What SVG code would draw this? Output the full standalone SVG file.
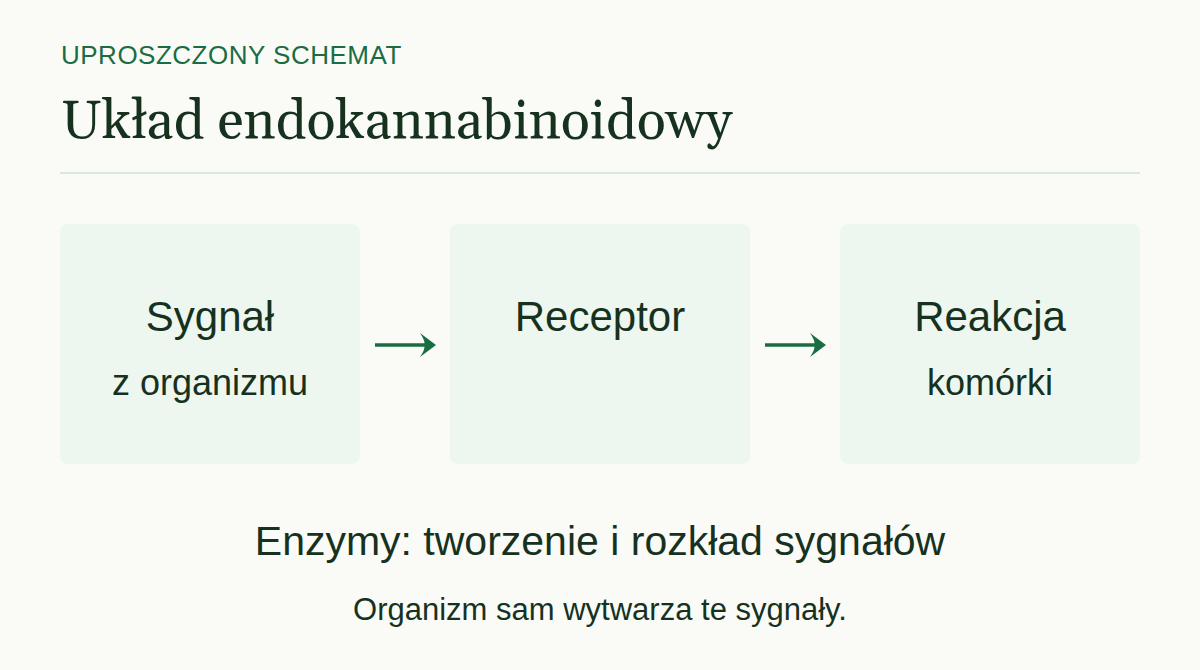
<svg xmlns="http://www.w3.org/2000/svg" width="1200" height="670" viewBox="0 0 1200 670">
  <defs>
    <style>
      .bg { fill: #fafbf7; }
      .eyebrow { font-family: "Liberation Sans", Arial, sans-serif; font-size: 26px; letter-spacing: 0.5px; fill: #1a6d43; }
      .title { font-family: Georgia, Gelasio, "Liberation Serif", serif; font-size: 54px; fill: #16321f; }
      .rule { stroke: #dce7df; stroke-width: 2; }
      .box { fill: #edf7ef; }
      .main { font-family: "Liberation Sans", Arial, sans-serif; font-size: 42px; fill: #16321f; text-anchor: middle; }
      .sub { font-family: "Liberation Sans", Arial, sans-serif; font-size: 36px; fill: #16321f; text-anchor: middle; }
      .arrow-line { stroke: #1a6d43; stroke-width: 3.5; fill: none; }
      .arrow-head { fill: #1a6d43; }
      .enz { font-family: "Liberation Sans", Arial, sans-serif; font-size: 41px; fill: #16321f; text-anchor: middle; }
      .note { font-family: "Liberation Sans", Arial, sans-serif; font-size: 31px; fill: #16321f; text-anchor: middle; }
    </style>
  </defs>
  <rect class="bg" x="0" y="0" width="1200" height="670"/>
  <g id="header">
    <text class="eyebrow" x="61" y="64">UPROSZCZONY SCHEMAT</text>
    <text class="title" x="61" y="138">Układ endokannabinoidowy</text>
    <line class="rule" x1="60" y1="173" x2="1140" y2="173"/>
  </g>
  <g id="node-sygnal">
    <rect class="box" x="60" y="224" width="300" height="240" rx="8"/>
    <text class="main" x="210" y="331">Sygnał</text>
    <text class="sub" x="210" y="395">z organizmu</text>
  </g>
  <g id="node-receptor">
    <rect class="box" x="450" y="224" width="300" height="240" rx="8"/>
    <text class="main" x="600" y="331">Receptor</text>
  </g>
  <g id="node-reakcja">
    <rect class="box" x="840" y="224" width="300" height="240" rx="8"/>
    <text class="main" x="990" y="331">Reakcja</text>
    <text class="sub" x="990" y="395">komórki</text>
  </g>
  <g id="connectors">
    <line class="arrow-line" x1="375" y1="345" x2="430" y2="345"/>
    <path class="arrow-head" d="M436,345 L420,333 Q426,342 424,345 Q426,348 420,357 Z"/>
    <line class="arrow-line" x1="765" y1="345" x2="820" y2="345"/>
    <path class="arrow-head" d="M826,345 L810,333 Q816,342 814,345 Q816,348 810,357 Z"/>
  </g>
  <g id="footer">
    <text class="enz" x="600" y="555">Enzymy: tworzenie i rozkład sygnałów</text>
    <text class="note" x="600" y="620">Organizm sam wytwarza te sygnały.</text>
  </g>
</svg>
